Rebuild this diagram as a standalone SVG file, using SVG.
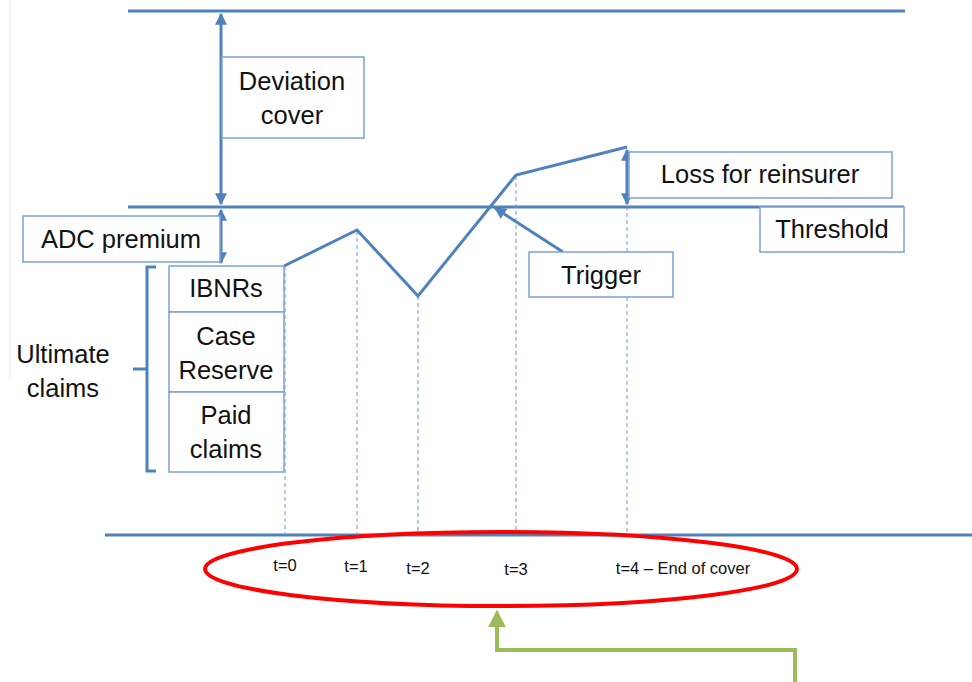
<svg xmlns="http://www.w3.org/2000/svg" width="972" height="682" viewBox="0 0 972 682">
<defs>
<style>
.ln{stroke:#4F81BD;stroke-width:3;fill:none}
.box{fill:#fff;stroke:#7EA1D4;stroke-width:1.5}
.t{font-family:"Liberation Sans",Arial,sans-serif;font-size:25.5px;fill:#111;text-anchor:middle}
.s{font-family:"Liberation Sans",Arial,sans-serif;font-size:16.5px;fill:#111;text-anchor:middle}
.dash{stroke:#6F96CC;stroke-width:1;stroke-dasharray:4 3;fill:none}
</style>
<marker id="ah" viewBox="0 0 10 10" refX="9" refY="5" markerWidth="4" markerHeight="4" orient="auto-start-reverse" markerUnits="strokeWidth">
<path d="M0,0 L10,5 L0,10 z" fill="#4F81BD"/>
</marker>
<marker id="ag" viewBox="0 0 10 10" refX="8" refY="5" markerWidth="4.5" markerHeight="4.5" orient="auto" markerUnits="strokeWidth">
<path d="M0,0 L10,5 L0,10 z" fill="#9BBB59"/>
</marker>
</defs>
<rect width="972" height="682" fill="#fff"/>
<line x1="10" y1="0" x2="10" y2="378" stroke="#eeeeee" stroke-width="1.5"/>
<g id="connectors">
<line class="ln" x1="128" y1="11" x2="905" y2="11"/>
<line class="ln" x1="128" y1="207" x2="904" y2="207"/>
<line class="ln" x1="105" y1="535" x2="972" y2="535"/>
<line class="ln" x1="221" y1="14" x2="221" y2="204" marker-start="url(#ah)" marker-end="url(#ah)"/>
<line class="ln" x1="221" y1="210" x2="221" y2="263" marker-start="url(#ah)" marker-end="url(#ah)"/>
<line class="ln" x1="627" y1="150" x2="627" y2="204" stroke-width="3.5" marker-start="url(#ah)" marker-end="url(#ah)"/>
<line class="dash" x1="285" y1="266" x2="285" y2="533"/>
<line class="dash" x1="357" y1="231" x2="357" y2="533"/>
<line class="dash" x1="418" y1="296" x2="418" y2="533"/>
<line class="dash" x1="516" y1="176" x2="516" y2="533"/>
<line class="dash" x1="627" y1="206" x2="627" y2="533"/>
<polyline class="ln" points="284,266 357,230 418,296 516,175 627,147"/>
<line class="ln" x1="563" y1="252" x2="495" y2="208" marker-end="url(#ah)"/>
<path d="M156,267 L147,267 L147,369 L133,369 M147,369 L147,471 L156,471" class="ln"/>
<polyline points="795,682 795,650 497,650 497,613" fill="none" stroke="#9BBB59" stroke-width="4" marker-end="url(#ag)"/>
</g>
<g id="deviation-cover">
<rect class="box" x="222" y="57" width="142" height="81"/>
<text class="t" x="292" y="90">Deviation</text>
<text class="t" x="292" y="124">cover</text>
</g>
<g id="adc-premium">
<rect class="box" x="23" y="216" width="197" height="46"/>
<text class="t" x="121" y="248">ADC premium</text>
</g>
<g id="ibnrs">
<rect class="box" x="169" y="266" width="115" height="46"/>
<text class="t" x="226" y="297">IBNRs</text>
</g>
<g id="case-reserve">
<rect class="box" x="169" y="312" width="115" height="80"/>
<text class="t" x="226" y="345">Case</text>
<text class="t" x="226" y="379">Reserve</text>
</g>
<g id="paid-claims">
<rect class="box" x="169" y="392" width="115" height="80"/>
<text class="t" x="226" y="424">Paid</text>
<text class="t" x="226" y="458">claims</text>
</g>
<g id="ultimate-claims">
<text class="t" x="63" y="363">Ultimate</text>
<text class="t" x="63" y="397">claims</text>
</g>
<g id="loss-for-reinsurer">
<rect class="box" x="629" y="152" width="263" height="46"/>
<text class="t" x="760" y="183">Loss for reinsurer</text>
</g>
<g id="threshold">
<rect class="box" x="760" y="207" width="144" height="45"/>
<text class="t" x="832" y="238">Threshold</text>
</g>
<g id="trigger">
<rect class="box" x="529" y="252" width="144" height="45"/>
<text class="t" x="601" y="284">Trigger</text>
</g>
<g id="time-axis">
<ellipse cx="501" cy="569" rx="296" ry="37" fill="none" stroke="#FF0000" stroke-width="4"/>
<text class="s" x="285" y="571">t=0</text>
<text class="s" x="356" y="572">t=1</text>
<text class="s" x="418" y="574">t=2</text>
<text class="s" x="516" y="575">t=3</text>
<text class="s" x="683" y="574">t=4 – End of cover</text>
</g>
</svg>
